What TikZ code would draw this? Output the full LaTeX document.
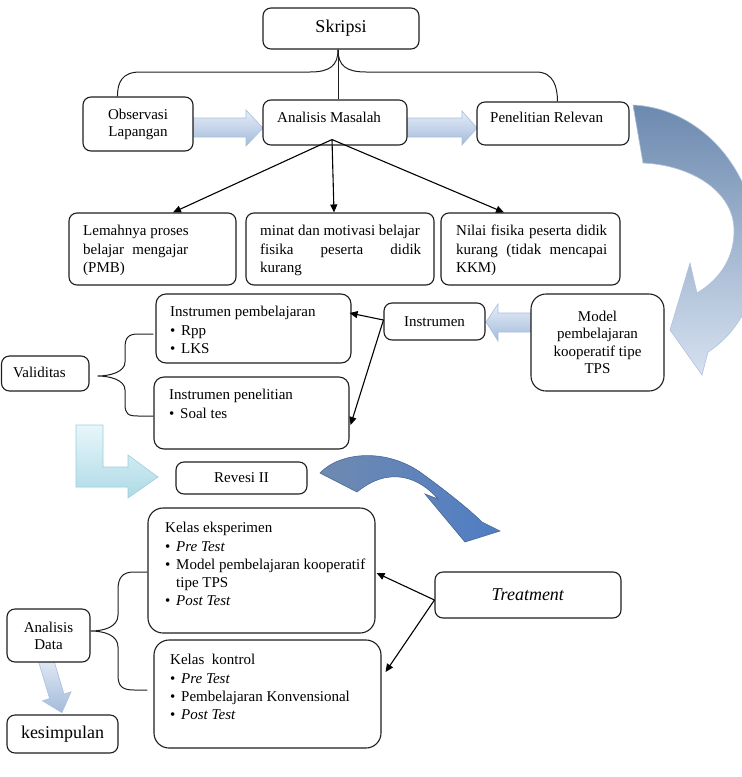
\documentclass[tikz,border=0pt]{standalone}
\usepackage{fontspec}
\setmainfont{Liberation Serif}
\usetikzlibrary{arrows.meta,calc}
\definecolor{bd}{HTML}{1E1E1E}
\definecolor{haA}{HTML}{E6EDF7}
\definecolor{haB}{HTML}{A3BBDB}
\definecolor{haC}{HTML}{A9BFDC}
\definecolor{laA}{HTML}{E8F6FA}
\definecolor{laB}{HTML}{ADDAE6}
\definecolor{laC}{HTML}{9CCEDC}
\definecolor{arcA}{HTML}{6C89AF}
\definecolor{arcM}{HTML}{A9BCD6}
\definecolor{arcB}{HTML}{D6E1F0}
\definecolor{arcC}{HTML}{AFC3DD}
\definecolor{saA}{HTML}{6F8AB0}
\definecolor{saB}{HTML}{4F7DC4}
\definecolor{saC}{HTML}{4A6794}
\newcommand{\fsn}{\fontsize{15}{18.2}\selectfont}
\newcommand{\fsl}{\fontsize{18}{21}\selectfont}
\newcommand{\mybul}{\makebox[11pt][l]{\textbullet}}
\begin{document}
\begin{tikzpicture}[x=1pt,y=-1pt,
  box/.style={draw=bd,line width=1.1pt,rounded corners=8pt,fill=white,inner sep=0pt,font=\fsn,align=center},
  bigbox/.style={box,rounded corners=15pt},
  txt/.style={inner sep=0pt,font=\fsn,align=left,anchor=north west},
  conn/.style={draw=black,line width=1.1pt,-{Triangle[length=8pt,width=7pt]}},
  brace/.style={draw=bd,line width=1pt},
  harrow/.style={top color=haA,bottom color=haB,draw=haC,line width=0.6pt},
  larrow/.style={top color=laA,bottom color=laB,draw=laC,line width=0.6pt},
  bigarc/.style={top color=arcA,middle color=arcM,bottom color=arcB,draw=arcC,line width=0.6pt},
  smallarc/.style={left color=saA,right color=saB,draw=saC,line width=0.6pt}]
\useasboundingbox (0,0) rectangle (742,777);

% decorative block arrows
\path[harrow] (193,118) -- (246,118) -- (246,110) -- (263,128) -- (246,146) -- (246,137) -- (193,137) -- cycle;
\path[harrow] (407,118) -- (462,118) -- (462,111) -- (477,128) -- (462,145) -- (462,137) -- (407,137) -- cycle;
\path[harrow] (532,313) -- (498,313) -- (498,304) -- (486,322) -- (498,341) -- (498,332) -- (532,332) -- cycle;
\path[larrow] (76,425) -- (103,425) -- (103,467) -- (128,467) -- (128,455) -- (158,477) -- (128,498) -- (128,487) -- (76,487) -- cycle;
\path[harrow] (37.8,659.2) -- (52.2,654.8) -- (64.0,694.1) -- (71.1,691.8) -- (61.9,712.6) -- (42.5,700.8) -- (49.6,698.5) -- cycle;
\path[bigarc] (633,105) .. controls (700,108) and (760,170) .. (758,260)
  .. controls (757,300) and (735,335) .. (708,352) -- (702,375) -- (670,330) -- (690,263) -- (697,293)
  .. controls (722,278) and (735,255) .. (734,228)
  .. controls (732,190) and (690,165) .. (643,163) -- cycle;
\path[smallarc] (320,473) .. controls (340,452) and (385,448) .. (420,472)
  .. controls (445,490) and (470,510) .. (482,522) -- (500,531) -- (465,542) -- (425,494) -- (438,499)
  .. controls (420,478) and (390,465) .. (357,492) -- cycle;

% boxes
\node[box,minimum width=156pt,minimum height=41pt,font=\fsl] (skripsi) at (341,28.5) {Skripsi};
\node[box,minimum width=110pt,minimum height=54pt,font=\fontsize{15}{17}\selectfont] (obs) at (138,124) {Observasi\\Lapangan};
\node[box,minimum width=144pt,minimum height=45pt] (anal) at (335,122.5) {};
\node[txt] (analt) at (277,109.9) {\strut Analisis Masalah};
\node[box,minimum width=152pt,minimum height=43pt] (pen) at (553,123.5) {};
\node[txt] (pent) at (490,109.9) {\strut Penelitian Relevan};

\node[box,minimum width=167pt,minimum height=72pt] (lem) at (152.5,249) {};
\node[txt] (lemt) at (83,222.9) {\strut Lemahnya proses\\\makebox[105pt][s]{belajar mengajar}\\(PMB)};
\node[box,minimum width=188pt,minimum height=72pt] (minat) at (340,249) {};
\node[txt] (minatt) at (260,222.9) {\strut minat dan motivasi belajar\\\makebox[161pt][s]{fisika peserta didik}\\kurang};
\node[box,minimum width=179pt,minimum height=72pt] (nilai) at (530.5,249) {};
\node[txt] (nilait) at (456,222.9) {\strut\makebox[151pt][s]{Nilai fisika peserta didik}\\\makebox[151pt][s]{kurang (tidak mencapai}\\KKM)};

\node[box,rounded corners=10pt,minimum width=195pt,minimum height=69pt] (ipemb) at (253.5,328.5) {};
\node[txt] (ipembt) at (170,303.9) {\strut Instrumen pembelajaran\\\mybul Rpp\\\mybul LKS};
\node[box,rounded corners=10pt,minimum width=195pt,minimum height=72pt] (ipen) at (251.5,413) {};
\node[txt] (ipent) at (169,386.9) {\strut Instrumen penelitian\\\mybul Soal tes};
\node[box,minimum width=101pt,minimum height=37pt] (instr) at (434.5,321.5) {Instrumen};
\node[bigbox,minimum width=133pt,minimum height=97pt,font=\fontsize{15}{17.3}\selectfont] (model) at (597.5,342.5) {Model\\pembelajaran\\kooperatif tipe\\TPS};
\node[box,minimum width=87.5pt,minimum height=35pt] (valid) at (45.25,373.5) {};
\node[txt] (validt) at (13,364.9) {\strut Validitas};

\node[box,minimum width=131pt,minimum height=32pt] (revesi) at (241.5,478) {Revesi II};
\node[bigbox,minimum width=227pt,minimum height=125pt] (keksp) at (261.5,570.5) {};
\node[txt] (keksptxt) at (165,519.9) {\strut Kelas eksperimen\\\mybul\textit{Pre Test}\\\mybul Model pembelajaran kooperatif\\\hspace*{11pt}tipe TPS\\\mybul\textit{Post Test}};
\node[bigbox,minimum width=227pt,minimum height=108pt] (kkontrol) at (267.5,694) {};
\node[txt] (kkontroltxt) at (170,651.9) {\strut Kelas\ \ kontrol\\\mybul\textit{Pre Test}\\\mybul Pembelajaran Konvensional\\\mybul\textit{Post Test}};
\node[box,minimum width=186pt,minimum height=46pt,font=\fsl] (treat) at (528,595) {\textit{Treatment}};
\node[box,minimum width=83pt,minimum height=53pt,font=\fontsize{15}{17}\selectfont] (adata) at (48.5,635.5) {Analisis\\Data};
\node[box,minimum width=111pt,minimum height=38pt,font=\fsl] (kesimp) at (62.5,734) {kesimpulan};

% Skripsi brace
\coordinate (sk) at ($(skripsi.south)+(-3,0)$);
\draw[brace] (sk) .. controls +(0,16) and +(20,0) .. (310,72) -- (140,72)
  .. controls +(-18,0) and +(0,-14) .. ($(obs.north west)+(35,0)$);
\draw[brace] (sk) .. controls +(0,16) and +(-20,0) .. (366,72) -- (536,72)
  .. controls +(18,0) and +(0,-14) .. ($(pen.north west)+(81,0)$);
\draw[brace] (sk) -- (sk |- anal.north);

% Analisis Masalah arrows
\coordinate (am) at ($(anal.south)+(-3,-6)$);
\draw[conn] (am) -- ($(lem.north)+(20.5,0)$);
\draw[conn] (am) -- ($(minat.north)+(-6,0)$);
\draw[conn] (am) -- ($(nilai.north)+(-26.5,0)$);

% Instrumen arrows
\coordinate (in) at ($(instr.west)+(0,-1.5)$);
\draw[conn] (in) -- ($(ipemb.east)+(-2,-15.5)$);
\draw[conn] (in) -- ($(ipen.east)+(1,12)$);

% Treatment arrows
\coordinate (tr) at ($(treat.west)+(0,5)$);
\draw[conn] (tr) -- ($(keksp.east)+(1,2.5)$);
\draw[conn] (tr) -- ($(kkontrol.east)+(4,-22)$);

% Validitas brace
\draw[brace] ($(ipemb.west)+(-2,5.5)$) -- (138,334) .. controls (128,334) and (125,338) .. (125,348) -- (125,362)
  .. controls (125,372) and (110,376) .. ($(valid.east)+(8,2.5)$)
  .. controls (110,376) and (125,380) .. (125,390) -- (125,404)
  .. controls (125,414) and (128,416) .. (138,416) -- ($(ipen.west)+(0,3)$);

% Analisis Data brace
\draw[brace] ($(keksp.west)+(0,1.5)$) -- (134,572) .. controls (122,572) and (118,578) .. (118,590) -- (118,615)
  .. controls (118,627) and (104,631) .. ($(adata.east)+(0,-4.5)$)
  .. controls (104,631) and (118,635) .. (118,647) -- (118,675)
  .. controls (118,686) and (122,690) .. (134,690) -- ($(kkontrol.west)+(-6,-4)$);
\end{tikzpicture}
\end{document}
